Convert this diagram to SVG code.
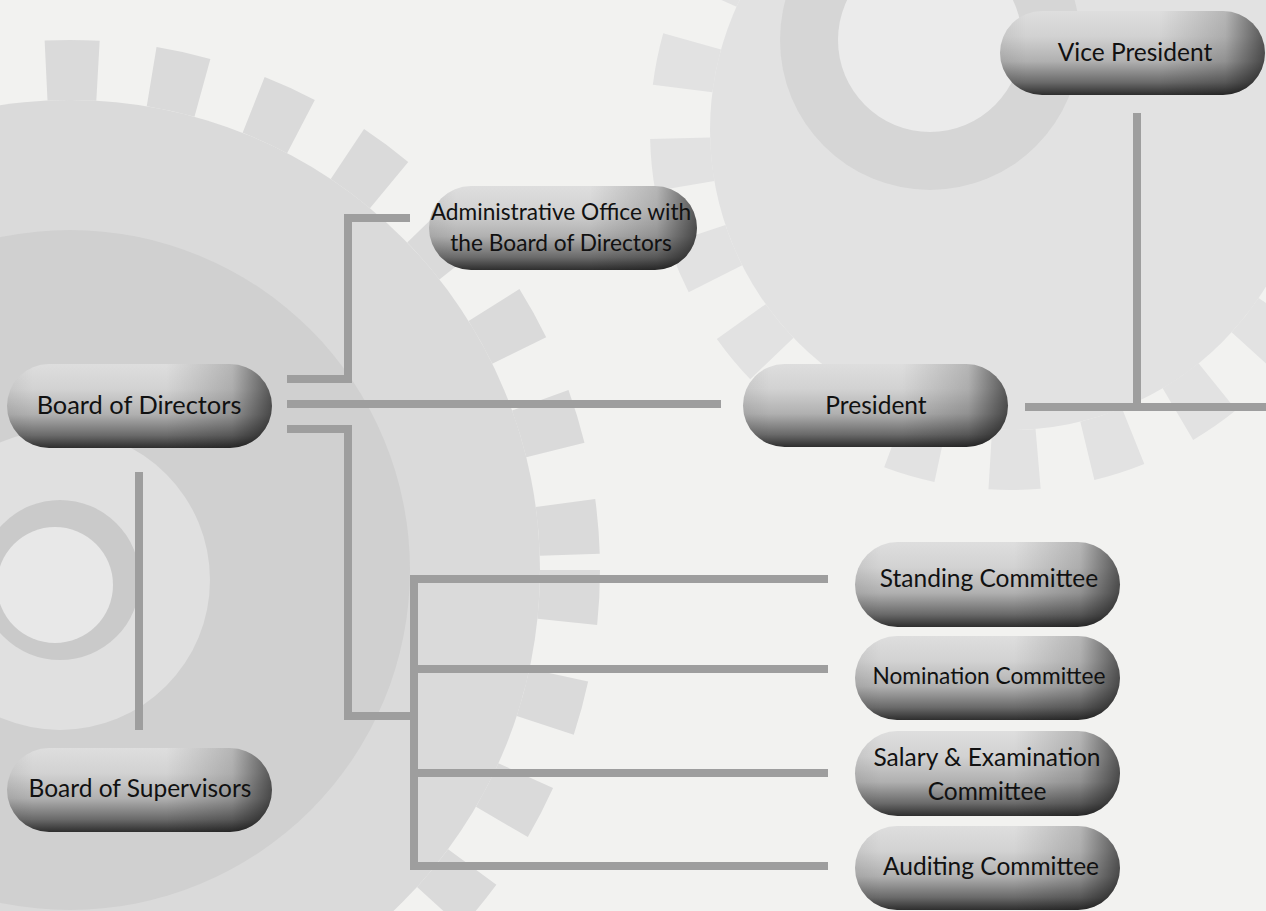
<svg xmlns="http://www.w3.org/2000/svg" width="1266" height="911" viewBox="0 0 1266 911">
<defs>
<linearGradient id="gv" x1="0" y1="0" x2="0" y2="1">
<stop offset="0" stop-color="#dedede"/>
<stop offset="0.3" stop-color="#d2d2d2"/>
<stop offset="0.6" stop-color="#b0b0b0"/>
<stop offset="0.85" stop-color="#6a6a6a"/>
<stop offset="1" stop-color="#2e2e2e"/>
</linearGradient>
<linearGradient id="gh" x1="0" y1="0" x2="1" y2="0">
<stop offset="0" stop-color="#000" stop-opacity="0.06"/>
<stop offset="0.1" stop-color="#000" stop-opacity="0"/>
<stop offset="0.6" stop-color="#000" stop-opacity="0"/>
<stop offset="0.85" stop-color="#000" stop-opacity="0.18"/>
<stop offset="1" stop-color="#000" stop-opacity="0.6"/>
</linearGradient>
<style>
.pill{fill:url(#gv)}
.shade{fill:url(#gh)}
.t{font-family:Lato,"Open Sans","Liberation Sans",sans-serif;font-size:24.5px;fill:#111;text-anchor:middle}
.ts{font-size:22.7px}
.tb{font-size:25.4px}
.c{fill:none;stroke:#9e9e9e;stroke-width:8;stroke-linecap:butt;stroke-linejoin:miter}
</style>
</defs>
<g id="background">
<rect width="1266" height="911" fill="#f2f2f0"/>
<circle cx="70" cy="570" r="470" fill="#dadada"/>
<circle cx="70" cy="570" r="500" fill="none" stroke="#dadada" stroke-width="60" stroke-dasharray="52 54"/>
<circle cx="70" cy="570" r="340" fill="#d0d0d0"/>
<circle cx="60" cy="580" r="150" fill="#e0e0e0"/>
<circle cx="60" cy="580" r="80" fill="#cacaca"/>
<circle cx="55" cy="585" r="58" fill="#e8e8e8"/>
<circle cx="1010" cy="130" r="300" fill="#e2e2e2"/>
<circle cx="1010" cy="130" r="330" fill="none" stroke="#e2e2e2" stroke-width="60" stroke-dasharray="48 50"/>
<circle cx="930" cy="40" r="150" fill="#d6d6d6"/>
<circle cx="930" cy="40" r="92" fill="#ebebeb"/>
</g>
<g id="connectors">
<path class="c" d="M287 379 H348 V218 H410"/>
<path class="c" d="M287 404 H721"/>
<path class="c" d="M287 429 H348 V716 H410"/>
<path class="c" d="M828 579 H414 V866 H828"/>
<path class="c" d="M414 669 H828"/>
<path class="c" d="M414 773 H828"/>
<path class="c" d="M1025 407 H1266"/>
<path class="c" d="M1137 113 V407"/>
<path class="c" d="M139 472 V730"/>
</g>
<g id="board-of-directors">
<rect class="pill" x="7" y="364" width="265" height="84" rx="42"/>
<rect class="shade" x="7" y="364" width="265" height="84" rx="42"/>
<text class="t tb" x="139" y="414">Board of Directors</text>
</g>
<g id="administrative-office">
<rect class="pill" x="429" y="186" width="268" height="84" rx="42"/>
<rect class="shade" x="429" y="186" width="268" height="84" rx="42"/>
<text class="t ts" x="561" y="220">Administrative Office with</text>
<text class="t ts" x="561" y="251">the Board of Directors</text>
</g>
<g id="president">
<rect class="pill" x="743" y="364" width="265" height="83" rx="41.5"/>
<rect class="shade" x="743" y="364" width="265" height="83" rx="41.5"/>
<text class="t" x="876" y="414">President</text>
</g>
<g id="vice-president">
<rect class="pill" x="1000" y="11" width="265" height="84" rx="42"/>
<rect class="shade" x="1000" y="11" width="265" height="84" rx="42"/>
<text class="t" x="1135" y="61">Vice President</text>
</g>
<g id="board-of-supervisors">
<rect class="pill" x="7" y="748" width="265" height="84" rx="42"/>
<rect class="shade" x="7" y="748" width="265" height="84" rx="42"/>
<text class="t" x="140" y="797">Board of Supervisors</text>
</g>
<g id="standing-committee">
<rect class="pill" x="855" y="542" width="265" height="85" rx="42.5"/>
<rect class="shade" x="855" y="542" width="265" height="85" rx="42.5"/>
<text class="t" x="989" y="587">Standing Committee</text>
</g>
<g id="nomination-committee">
<rect class="pill" x="855" y="636" width="265" height="84" rx="42"/>
<rect class="shade" x="855" y="636" width="265" height="84" rx="42"/>
<text class="t ts" x="989" y="684">Nomination Committee</text>
</g>
<g id="salary-examination-committee">
<rect class="pill" x="855" y="731" width="265" height="85" rx="42.5"/>
<rect class="shade" x="855" y="731" width="265" height="85" rx="42.5"/>
<text class="t" x="987" y="766">Salary &amp; Examination</text>
<text class="t" x="987" y="800">Committee</text>
</g>
<g id="auditing-committee">
<rect class="pill" x="855" y="826" width="265" height="84" rx="42"/>
<rect class="shade" x="855" y="826" width="265" height="84" rx="42"/>
<text class="t" x="991" y="875">Auditing Committee</text>
</g>
</svg>
